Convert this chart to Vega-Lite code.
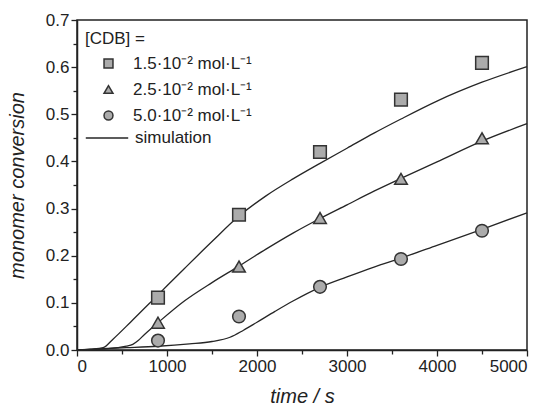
{
  "$schema": "https://vega.github.io/schema/vega-lite/v6.json",
  "width": 450,
  "height": 330,
  "autosize": {"type": "none"},
  "padding": {"left": 77, "top": 20, "right": 22, "bottom": 61},
  "background": "white",
  "config": {
    "font": "Liberation Sans",
    "view": {"stroke": "#222", "strokeWidth": 1.5},
    "axis": {
      "domainColor": "#222", "domainWidth": 1.5, "tickColor": "#222", "tickWidth": 1.3,
      "labelFont": "Liberation Sans", "labelFontSize": 17, "labelColor": "#222",
      "titleFont": "Liberation Sans", "titleFontSize": 20, "titleFontWeight": "normal",
      "titleFontStyle": "italic", "titleColor": "#222", "grid": false, "labelOverlap": false
    },
    "legend": {"labelFont": "Liberation Sans", "titleFont": "Liberation Sans"}
  },
  "datasets": {
    "obs": [
      {"t": 900, "conv": 0.111, "series": "1.5·10⁻² mol·L⁻¹"},
      {"t": 1800, "conv": 0.287, "series": "1.5·10⁻² mol·L⁻¹"},
      {"t": 2700, "conv": 0.420, "series": "1.5·10⁻² mol·L⁻¹"},
      {"t": 3600, "conv": 0.531, "series": "1.5·10⁻² mol·L⁻¹"},
      {"t": 4500, "conv": 0.609, "series": "1.5·10⁻² mol·L⁻¹"},
      {"t": 900, "conv": 0.058, "series": "2.5·10⁻² mol·L⁻¹"},
      {"t": 1800, "conv": 0.177, "series": "2.5·10⁻² mol·L⁻¹"},
      {"t": 2700, "conv": 0.280, "series": "2.5·10⁻² mol·L⁻¹"},
      {"t": 3600, "conv": 0.363, "series": "2.5·10⁻² mol·L⁻¹"},
      {"t": 4500, "conv": 0.449, "series": "2.5·10⁻² mol·L⁻¹"},
      {"t": 900, "conv": 0.020, "series": "5.0·10⁻² mol·L⁻¹"},
      {"t": 1800, "conv": 0.071, "series": "5.0·10⁻² mol·L⁻¹"},
      {"t": 2700, "conv": 0.134, "series": "5.0·10⁻² mol·L⁻¹"},
      {"t": 3600, "conv": 0.193, "series": "5.0·10⁻² mol·L⁻¹"},
      {"t": 4500, "conv": 0.253, "series": "5.0·10⁻² mol·L⁻¹"}
    ],
    "sim": [
      {"t": 0, "conv": 0.0, "series": "a", "model": "simulation"},
      {"t": 150, "conv": 0.002, "series": "a", "model": "simulation"},
      {"t": 290, "conv": 0.005, "series": "a", "model": "simulation"},
      {"t": 400, "conv": 0.023, "series": "a", "model": "simulation"},
      {"t": 600, "conv": 0.06, "series": "a", "model": "simulation"},
      {"t": 900, "conv": 0.117, "series": "a", "model": "simulation"},
      {"t": 1200, "conv": 0.174, "series": "a", "model": "simulation"},
      {"t": 1500, "conv": 0.23, "series": "a", "model": "simulation"},
      {"t": 1800, "conv": 0.284, "series": "a", "model": "simulation"},
      {"t": 2100, "conv": 0.327, "series": "a", "model": "simulation"},
      {"t": 2400, "conv": 0.363, "series": "a", "model": "simulation"},
      {"t": 2700, "conv": 0.396, "series": "a", "model": "simulation"},
      {"t": 3000, "conv": 0.428, "series": "a", "model": "simulation"},
      {"t": 3300, "conv": 0.46, "series": "a", "model": "simulation"},
      {"t": 3600, "conv": 0.49, "series": "a", "model": "simulation"},
      {"t": 4000, "conv": 0.528, "series": "a", "model": "simulation"},
      {"t": 4500, "conv": 0.568, "series": "a", "model": "simulation"},
      {"t": 5000, "conv": 0.601, "series": "a", "model": "simulation"},
      {"t": 0, "conv": 0.0, "series": "b", "model": "simulation"},
      {"t": 290, "conv": 0.002, "series": "b", "model": "simulation"},
      {"t": 450, "conv": 0.005, "series": "b", "model": "simulation"},
      {"t": 550, "conv": 0.008, "series": "b", "model": "simulation"},
      {"t": 620, "conv": 0.012, "series": "b", "model": "simulation"},
      {"t": 680, "conv": 0.02, "series": "b", "model": "simulation"},
      {"t": 750, "conv": 0.033, "series": "b", "model": "simulation"},
      {"t": 900, "conv": 0.058, "series": "b", "model": "simulation"},
      {"t": 1200, "conv": 0.105, "series": "b", "model": "simulation"},
      {"t": 1500, "conv": 0.143, "series": "b", "model": "simulation"},
      {"t": 1800, "conv": 0.178, "series": "b", "model": "simulation"},
      {"t": 2100, "conv": 0.214, "series": "b", "model": "simulation"},
      {"t": 2400, "conv": 0.248, "series": "b", "model": "simulation"},
      {"t": 2700, "conv": 0.279, "series": "b", "model": "simulation"},
      {"t": 3000, "conv": 0.308, "series": "b", "model": "simulation"},
      {"t": 3300, "conv": 0.337, "series": "b", "model": "simulation"},
      {"t": 3600, "conv": 0.364, "series": "b", "model": "simulation"},
      {"t": 4000, "conv": 0.399, "series": "b", "model": "simulation"},
      {"t": 4500, "conv": 0.443, "series": "b", "model": "simulation"},
      {"t": 5000, "conv": 0.48, "series": "b", "model": "simulation"},
      {"t": 0, "conv": 0.0, "series": "c", "model": "simulation"},
      {"t": 290, "conv": 0.003, "series": "c", "model": "simulation"},
      {"t": 550, "conv": 0.005, "series": "c", "model": "simulation"},
      {"t": 900, "conv": 0.008, "series": "c", "model": "simulation"},
      {"t": 1250, "conv": 0.013, "series": "c", "model": "simulation"},
      {"t": 1500, "conv": 0.018, "series": "c", "model": "simulation"},
      {"t": 1700, "conv": 0.027, "series": "c", "model": "simulation"},
      {"t": 1850, "conv": 0.042, "series": "c", "model": "simulation"},
      {"t": 2000, "conv": 0.059, "series": "c", "model": "simulation"},
      {"t": 2200, "conv": 0.082, "series": "c", "model": "simulation"},
      {"t": 2400, "conv": 0.104, "series": "c", "model": "simulation"},
      {"t": 2700, "conv": 0.133, "series": "c", "model": "simulation"},
      {"t": 3000, "conv": 0.155, "series": "c", "model": "simulation"},
      {"t": 3300, "conv": 0.176, "series": "c", "model": "simulation"},
      {"t": 3600, "conv": 0.195, "series": "c", "model": "simulation"},
      {"t": 4000, "conv": 0.222, "series": "c", "model": "simulation"},
      {"t": 4500, "conv": 0.256, "series": "c", "model": "simulation"},
      {"t": 5000, "conv": 0.291, "series": "c", "model": "simulation"}
    ]
  },
  "encoding": {
    "x": {
      "field": "t", "type": "quantitative",
      "scale": {"domain": [0, 5000], "nice": false, "zero": false},
      "axis": {
        "title": "time / s",
        "format": "d",
        "values": [0, 500, 1000, 1500, 2000, 2500, 3000, 3500, 4000, 4500, 5000],
        "labelExpr": "datum.value % 1000 === 0 ? datum.label : ''",
        "tickSize": {"condition": {"test": "datum.value % 1000 === 0", "value": 6}, "value": 4},
        "labelPadding": 2,
        "titlePadding": 12
      }
    },
    "y": {
      "field": "conv", "type": "quantitative",
      "scale": {"domain": [0, 0.7], "nice": false},
      "axis": {
        "title": "monomer conversion",
        "values": [0, 0.05, 0.1, 0.15, 0.2, 0.25, 0.3, 0.35, 0.4, 0.45, 0.5, 0.55, 0.6, 0.65, 0.7],
        "labelExpr": "round(datum.value*100) % 10 === 0 ? format(datum.value, '.1f') : ''",
        "tickSize": {"condition": {"test": "round(datum.value*100) % 10 === 0", "value": 6}, "value": 4},
        "labelPadding": 2,
        "titlePadding": 18
      }
    }
  },
  "layer": [
    {
      "data": {"name": "sim"},
      "mark": {"type": "line", "strokeWidth": 1.3, "interpolate": "monotone"},
      "encoding": {
        "detail": {"field": "series"},
        "color": {
          "field": "model", "type": "nominal",
          "scale": {"range": ["#262626"]},
          "legend": {
            "orient": "none", "legendX": 8, "legendY": 96, "title": null,
            "symbolType": "stroke", "symbolSize": 1800, "symbolStrokeWidth": 1.3,
            "labelFontSize": 17, "labelColor": "#222", "labelOffset": 6
          }
        }
      }
    },
    {
      "data": {"name": "obs"},
      "mark": {"type": "point", "filled": true, "opacity": 1, "size": 160},
      "encoding": {
        "shape": {
          "field": "series", "type": "nominal",
          "scale": {"domain": ["1.5·10⁻² mol·L⁻¹", "2.5·10⁻² mol·L⁻¹", "5.0·10⁻² mol·L⁻¹"], "range": ["square", "triangle-up", "circle"]},
          "legend": {
            "orient": "none", "legendX": 8, "legendY": 11, "title": "[CDB] =",
            "titleFontSize": 17, "titleFontWeight": "normal", "titleColor": "#222", "titlePadding": 7,
            "labelFontSize": 17, "labelColor": "#222", "symbolSize": 80,
            "symbolOffset": 15, "labelOffset": 16, "rowPadding": 8,
            "encode": {"symbols": {"update": {"fill": {"value": "#ababab"}, "stroke": {"value": "#333333"}, "strokeWidth": {"value": 1.5}, "opacity": {"value": 1}}}}
          }
        },
        "fill": {"value": "#ababab"},
        "stroke": {"value": "#333333"},
        "strokeWidth": {"value": 1.5}
      }
    }
  ]
}
